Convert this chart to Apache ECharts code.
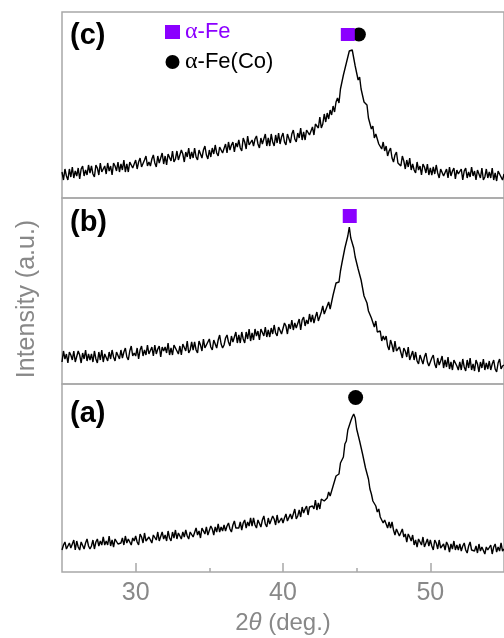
<!DOCTYPE html>
<html><head><meta charset="utf-8">
<script src="https://cdn.jsdelivr.net/npm/echarts@6/dist/echarts.min.js"></script>
<style>html,body{margin:0;padding:0;background:#fff}#c{width:504px;height:638px}</style>
</head><body><div id="c"></div>
<script>
// sampling grid of the scans (2θ, degrees)
const xStart = 25, xStep = 0.1;
// panel (c) intensity, arbitrary units
const seriesC = [
26,18,29,22,18,29,21,31,20,27,
22,30,19,29,32,22,28,23,33,25,
32,24,21,33,30,23,35,26,24,32,
24,35,27,32,23,35,32,27,36,26,
34,28,38,26,34,26,36,35,30,28,
38,29,36,40,31,29,38,42,32,36,
32,39,43,35,31,42,35,40,45,34,
42,33,44,42,37,47,36,39,47,38,
36,48,44,36,46,41,50,39,46,40,
50,41,38,48,46,40,48,52,43,39,
48,41,50,44,53,45,42,51,53,45,
47,54,45,56,48,53,56,46,55,51,
58,50,47,60,56,49,62,53,51,58,
52,59,62,54,50,60,54,59,64,52,
60,52,64,56,52,63,55,65,54,61,
65,56,53,64,62,55,64,68,59,56,
65,60,70,58,66,58,68,68,63,61,
71,63,74,73,70,81,70,74,84,76,
85,79,88,83,92,86,96,100,95,109,
107,123,121,135,134,147,148,148,149,132,
133,118,121,109,108,96,97,93,80,79,
69,72,60,64,65,54,56,49,56,47,
52,42,47,50,40,36,43,46,35,37,
32,42,37,29,38,31,40,28,34,28,
25,36,28,32,23,34,31,25,34,23,
30,23,31,24,33,25,20,29,31,22,
24,29,20,31,22,27,30,19,28,24,
22,29,18,27,30,20,26,21,31,22,
27,18,28,26,20,30,18,21,29,20,
26,20,30,18,25,17,27,26,21,18,
24];
// panel (b)
const seriesB = [
22,33,25,30,21,32,29,24,33,22,
22,33,29,21,31,25,34,23,30,24,
30,22,33,25,21,32,24,34,22,30,
30,23,32,25,34,27,23,32,34,25,
34,26,32,36,27,24,33,38,28,31,
28,36,25,34,38,28,34,29,39,30,
30,37,28,39,30,35,38,27,37,33,
37,31,41,29,36,29,39,38,33,30,
38,29,40,38,33,43,31,34,42,34,
42,34,31,43,39,33,45,36,35,42,
45,37,34,44,43,36,44,49,40,36,
39,46,49,42,38,48,42,47,52,41,
49,41,52,45,41,52,45,55,43,51,
44,55,48,53,44,55,53,48,57,47,
54,47,56,50,59,51,48,57,59,50,
50,61,58,50,60,55,64,54,61,56,
56,65,54,64,67,58,64,60,70,62,
69,61,67,72,63,62,72,78,70,74,
74,82,75,82,89,88,101,100,102,113,
121,123,136,134,148,157,146,147,136,127,
129,115,114,104,103,88,86,81,73,75,
66,68,57,63,52,53,53,43,48,44,
48,38,34,44,39,32,43,33,31,37,
36,26,36,33,27,37,24,26,33,24,
32,23,20,29,27,20,27,31,22,18,
19,26,29,20,16,26,19,23,28,16,
24,17,27,15,22,14,24,23,18,14,
22,14,25,17,13,24,16,26,14,20,
13,24,20,12,22,16,25,14,21,15,
23,14,20,24,15,12,21,25,15,18,
19];
// panel (a)
const seriesA = [
22,27,30,23,21,29,24,28,32,22,
31,25,22,30,29,23,29,33,26,23,
26,32,23,30,33,26,31,27,35,27,
31,27,36,26,32,25,33,32,28,27,
29,34,27,36,29,33,35,27,34,31,
36,30,27,38,35,29,39,31,30,35,
36,29,37,36,32,40,31,33,40,33,
37,31,41,34,31,40,34,42,33,39,
39,33,40,35,42,36,33,40,42,35,
34,44,37,41,34,44,42,38,45,37,
37,46,43,37,45,40,48,40,45,41,
47,41,46,49,43,40,47,51,44,46,
44,50,42,49,52,44,50,46,54,46,
54,47,44,52,51,45,52,56,48,45,
54,48,46,56,53,47,57,49,49,54,
49,54,58,51,49,58,53,58,63,53,
56,62,55,65,59,63,66,57,65,63,
66,63,72,62,69,63,73,73,71,70,
74,80,76,81,86,87,96,96,98,109,
112,115,128,131,142,142,151,155,158,154,
143,142,131,130,118,116,104,102,93,83,
78,71,73,66,60,63,55,57,49,52,
52,44,50,44,50,42,37,43,44,36,
34,43,35,38,30,38,35,31,37,27,
32,25,33,31,27,35,25,26,33,26,
32,26,22,32,29,23,32,24,23,28,
22,30,27,20,28,23,31,22,27,22,
28,21,26,29,22,19,26,30,22,23,
21,26,19,28,21,25,27,18,25,22,
21,27,18,25,28,20,25,21,29,21,
23];
const majorTicks = [30, 40, 50];
const minorTicks = [35, 45];
const panelLabels = ['(c)', '(b)', '(a)'];
// phase markers [2θ, intensity]
const alphaFeC = [[44.4, 163.5]];
const alphaFeCoC = [[45.15, 163.5]];
const alphaFeB = [[44.53, 168]];
const alphaFeCoA = [[44.93, 174.5]];

function pairs(arr){ return arr.map((v,i)=>[+(xStart+i*xStep).toFixed(2), v]); }

const FONT = '"Liberation Sans", Arial, sans-serif';
const SERIF = '"Liberation Serif", serif';
const PURPLE = '#8B00FF';
const GRAY = '#888';
const FRAME = '#a8a8a8';
const panelH = [186, 186, 188];
const panelTop = [12, 198, 384];

const grids = panelTop.map((t,i)=>({left:62, right:-3, top:t, height:panelH[i], show:true, borderColor:FRAME, borderWidth:1.5, backgroundColor:'transparent'}));
const hiddenX = gi => ({type:'value', gridIndex:gi, min:25, max:55, show:false});

const chart = echarts.init(document.getElementById('c'), null, {renderer:'canvas'});
const lineS = (arr, gi, xi) => ({type:'line', xAxisIndex:xi, yAxisIndex:gi, data:pairs(arr), showSymbol:false, symbol:'none', lineStyle:{color:'#000', width:1.4}, silent:true, z:2});
const dot = (name, gi, data, symbol, size, color, z) => ({type:'scatter', name, xAxisIndex:gi, yAxisIndex:gi, data, symbol, symbolSize:size, itemStyle:{color, opacity:1}, z, silent:true});

chart.setOption({
  animation:false,
  backgroundColor:'#fff',
  grid: grids,
  xAxis:[hiddenX(0), hiddenX(1),
    {type:'value', gridIndex:2, min:25, max:55, interval:5, position:'bottom',
     axisLine:{show:false}, splitLine:{show:false},
     axisTick:{show:true, inside:true, length:9, customValues:majorTicks, lineStyle:{color:FRAME, width:1.5}},
     axisLabel:{customValues:majorTicks, color:GRAY, fontSize:25, fontFamily:FONT, margin:9},
     name:'{n|2}{i|θ}{n| (deg.)}', nameLocation:'middle', nameGap:39,
     nameTextStyle:{color:GRAY, fontSize:24, fontFamily:FONT, rich:{
       n:{fontStyle:'normal', color:GRAY, fontSize:24, fontFamily:FONT},
       i:{fontStyle:'italic', color:GRAY, fontSize:24, fontFamily:FONT}}}},
    {type:'value', gridIndex:2, min:25, max:55, interval:5, position:'bottom',
     axisLine:{show:false}, splitLine:{show:false}, axisLabel:{show:false},
     axisTick:{show:true, inside:true, length:4, customValues:minorTicks, lineStyle:{color:FRAME, width:1.5}}}
  ],
  yAxis: panelH.map((h,i)=>({type:'value', gridIndex:i, min:0, max:h, show:false})),
  legend:{orient:'vertical', left:165, top:20, padding:0, itemWidth:15, itemHeight:14, itemGap:6, selectedMode:false,
    textStyle:{fontSize:22, fontFamily:FONT},
    formatter: n => n.replace('α','{g|α}'),
    data:[{name:'α-Fe', icon:'rect', itemStyle:{color:PURPLE}, textStyle:{color:PURPLE, fontSize:22, fontFamily:FONT, rich:{g:{color:PURPLE, fontFamily:SERIF, fontSize:24}}}},
          {name:'α-Fe(Co)', icon:'circle', itemStyle:{color:'#000'}, textStyle:{color:'#000', fontSize:22, fontFamily:FONT, rich:{g:{color:'#000', fontFamily:SERIF, fontSize:24}}}}]},
  graphic:[
    {type:'text', x:70, y:36, style:{text:panelLabels[0], fill:'#000', font:'bold 29px "Liberation Sans"', align:'left', verticalAlign:'middle'}},
    {type:'text', x:70, y:223, style:{text:panelLabels[1], fill:'#000', font:'bold 29px "Liberation Sans"', align:'left', verticalAlign:'middle'}},
    {type:'text', x:70, y:414, style:{text:panelLabels[2], fill:'#000', font:'bold 29px "Liberation Sans"', align:'left', verticalAlign:'middle'}},
    {type:'text', x:27, y:299, rotation:Math.PI/2, style:{text:'Intensity (a.u.)', fill:GRAY, font:'25px "Liberation Sans"', align:'center', verticalAlign:'middle'}}
  ],
  series:[
    lineS(seriesC,0,0), lineS(seriesB,1,1), lineS(seriesA,2,2),
    dot('α-Fe(Co)', 0, alphaFeCoC, 'circle', 14, '#000', 3),
    dot('α-Fe', 0, alphaFeC, 'rect', [14,13], PURPLE, 4),
    dot('α-Fe', 1, alphaFeB, 'rect', [14,14], PURPLE, 4),
    dot('α-Fe(Co)', 2, alphaFeCoA, 'circle', 15, '#000', 3)
  ]
});
</script></body></html>
